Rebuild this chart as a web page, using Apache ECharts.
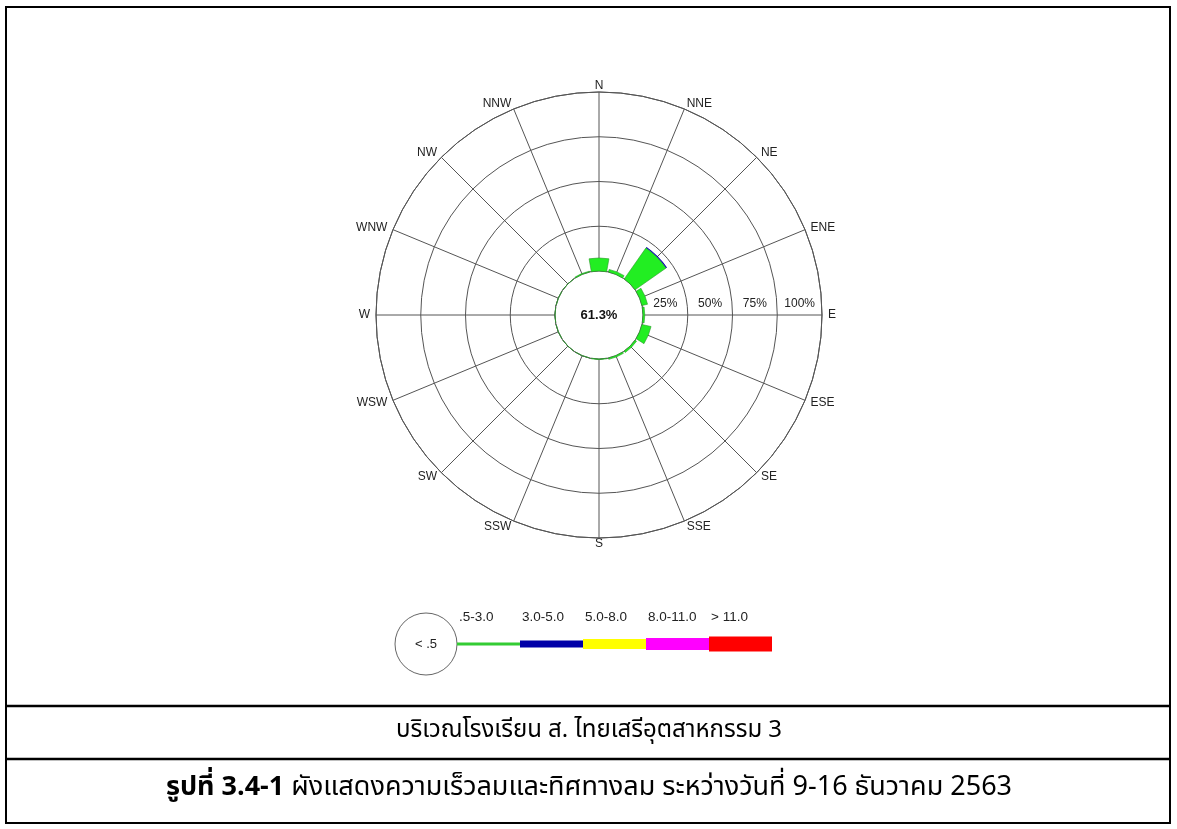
<!DOCTYPE html>
<html><head><meta charset="utf-8">
<script src="https://cdn.jsdelivr.net/npm/echarts@6/dist/echarts.min.js"></script>
<style>html,body{margin:0;padding:0;background:#fff}#c{width:1177px;height:829px}</style>
</head><body><div id="c"></div>
<script>
// ---- data ----
const directions = ['N','NNE','NE','ENE','E','ESE','SE','SSE','S','SSW','SW','WSW','W','WNW','NW','NNW'];
const speed05to30 = [7.3, 1.5, 21.2, 3.2, 1.0, 5.2, 1.0, 0.8, 0.3, 0, 0, 0, 0, 0, 0, 0.5];
const speed30to50 = [0, 0, 0.6, 0, 0, 0, 0, 0, 0, 0, 0, 0, 0, 0, 0, 0];
const calmPercent = 61.3;
const ringLabels = ['25%', '50%', '75%', '100%'];
const speedBins = ['.5-3.0', '3.0-5.0', '5.0-8.0', '8.0-11.0', '> 11.0'];
const speedColors = ['#33cc33', '#0000a8', '#ffff00', '#ff00ff', '#ff0000'];
const calmLabel = '< .5';
const siteTitle = 'บริเวณโรงเรียน ส. ไทยเสรีอุตสาหกรรม 3';
const captionBold = 'รูปที่ 3.4-1';
const captionText = ' ผังแสดงความเร็วลมและทิศทางลม ระหว่างวันที่ 9-16 ธันวาคม 2563';

// ---- layout ----
const CX = 599, CY = 315, R_IN = 44, R_OUT = 223, DIR_GAP = 6;
const LEG_CX = 426, LEG_CY = 644, LEG_R = 31, SEG_W = 63;
const segThick = [3, 7, 10, 12, 15];
const gridColor = '#555';
const labelFont = 'Liberation Sans, Arial, sans-serif';
const thaiFont = '"Noto Sans Thai", "Noto Sans", "DejaVu Sans", sans-serif';

const chart = echarts.init(document.getElementById('c'));

const graphics = [];
// frame
graphics.push({type:'rect', shape:{x:6, y:7, width:1164, height:816}, style:{fill:null, stroke:'#000', lineWidth:2}, silent:true});
graphics.push({type:'line', shape:{x1:6, y1:706, x2:1170, y2:706}, style:{stroke:'#000', lineWidth:2.5}, silent:true});
graphics.push({type:'line', shape:{x1:6, y1:759, x2:1170, y2:759}, style:{stroke:'#000', lineWidth:2.5}, silent:true});
// direction labels around the rose
directions.forEach((d, i) => {
  const a = i * 22.5 * Math.PI / 180;
  const s = Math.sin(a), c = Math.cos(a);
  const r = R_OUT + DIR_GAP;
  graphics.push({type:'text', x:CX + r * s, y:CY - r * c, style:{
    text:d, align: Math.abs(s) < 0.3 ? 'center' : (s > 0 ? 'left' : 'right'), verticalAlign:'middle',
    font:'12px ' + labelFont, fill:'#222'}, silent:true});
});
// legend
graphics.push({type:'circle', shape:{cx:LEG_CX, cy:LEG_CY, r:LEG_R}, style:{fill:'#fff', stroke:'#666', lineWidth:1}, silent:true});
graphics.push({type:'text', x:LEG_CX, y:LEG_CY, style:{text:calmLabel, align:'center', verticalAlign:'middle', font:'13px ' + labelFont, fill:'#222'}, silent:true});
speedBins.forEach((lbl, i) => {
  const x0 = LEG_CX + LEG_R + i * SEG_W;
  graphics.push({type:'rect', shape:{x:x0, y:LEG_CY - segThick[i] / 2, width:SEG_W, height:segThick[i]}, style:{fill:speedColors[i]}, silent:true});
  graphics.push({type:'text', x:x0 + 2, y:617, style:{text:lbl, align:'left', verticalAlign:'middle', font:'13.5px ' + labelFont, fill:'#222'}, silent:true});
});
// captions
graphics.push({type:'text', x:589, y:732, style:{text:siteTitle, align:'center', verticalAlign:'middle', font:'24px ' + thaiFont, fill:'#000'}, silent:true});
graphics.push({type:'text', x:589, y:790, style:{
  text:'{b|' + captionBold + '}{n|' + captionText + '}', align:'center', verticalAlign:'middle',
  rich:{b:{font:'bold 27px ' + thaiFont, fill:'#000'}, n:{font:'27px ' + thaiFont, fill:'#000'}}
}, silent:true});

const option = {
  animation: false,
  backgroundColor: '#fff',
  polar: [
    {center:[CX, CY], radius:[R_IN, R_OUT]},
    {center:[CX, CY], radius:[R_IN, R_OUT]}
  ],
  angleAxis: [
    {
      polarIndex:0, type:'value', min:0, max:360, interval:22.5, startAngle:0, clockwise:true,
      axisLine:{show:true, lineStyle:{color:gridColor, width:1}},
      axisTick:{show:false},
      splitLine:{show:true, lineStyle:{color:gridColor, width:1}},
      axisLabel:{show:false},
      z: 1
    },
    {
      polarIndex:1, type:'category', data:directions, startAngle:90 + 11.25, clockwise:true, boundaryGap:true,
      axisLine:{show:false}, axisTick:{show:false}, axisLabel:{show:false}, splitLine:{show:false}
    }
  ],
  radiusAxis: [
    {
      polarIndex:0, type:'category', data:ringLabels, boundaryGap:true,
      axisLine:{show:false}, axisTick:{show:false},
      splitLine:{show:true, lineStyle:{color:gridColor, width:1}},
      axisLabel:{show:true, margin:5, fontSize:12, color:'#222', fontFamily:labelFont},
      z: 1
    },
    {
      polarIndex:1, type:'value', min:0, max:100,
      axisLine:{show:false}, axisTick:{show:false}, axisLabel:{show:false}, splitLine:{show:false}
    }
  ],
  series: [
    {
      type:'pie', center:[CX, CY], radius:[0, R_IN], silent:true, z:3,
      data:[{value:calmPercent, name:'calm'}],
      itemStyle:{color:'#fff', borderColor:gridColor, borderWidth:1},
      label:{show:true, position:'center', formatter: calmPercent.toFixed(1) + '%', fontSize:13, fontWeight:'bold', color:'#111', fontFamily:labelFont},
      labelLine:{show:false}, emphasis:{disabled:true}
    },
    {
      type:'bar', coordinateSystem:'polar', polarIndex:1, stack:'w', name:speedBins[0],
      data:speed05to30, barCategoryGap:'11%', silent:true, z:4,
      itemStyle:{color:'#22ee22', borderColor:'#2a9a2a', borderWidth:0.6}
    },
    {
      type:'bar', coordinateSystem:'polar', polarIndex:1, stack:'w', name:speedBins[1],
      data:speed30to50, barCategoryGap:'11%', silent:true, z:4,
      itemStyle:{color:speedColors[1]}
    }
  ],
  graphic: graphics
};
chart.setOption(option);
</script>
</body></html>
